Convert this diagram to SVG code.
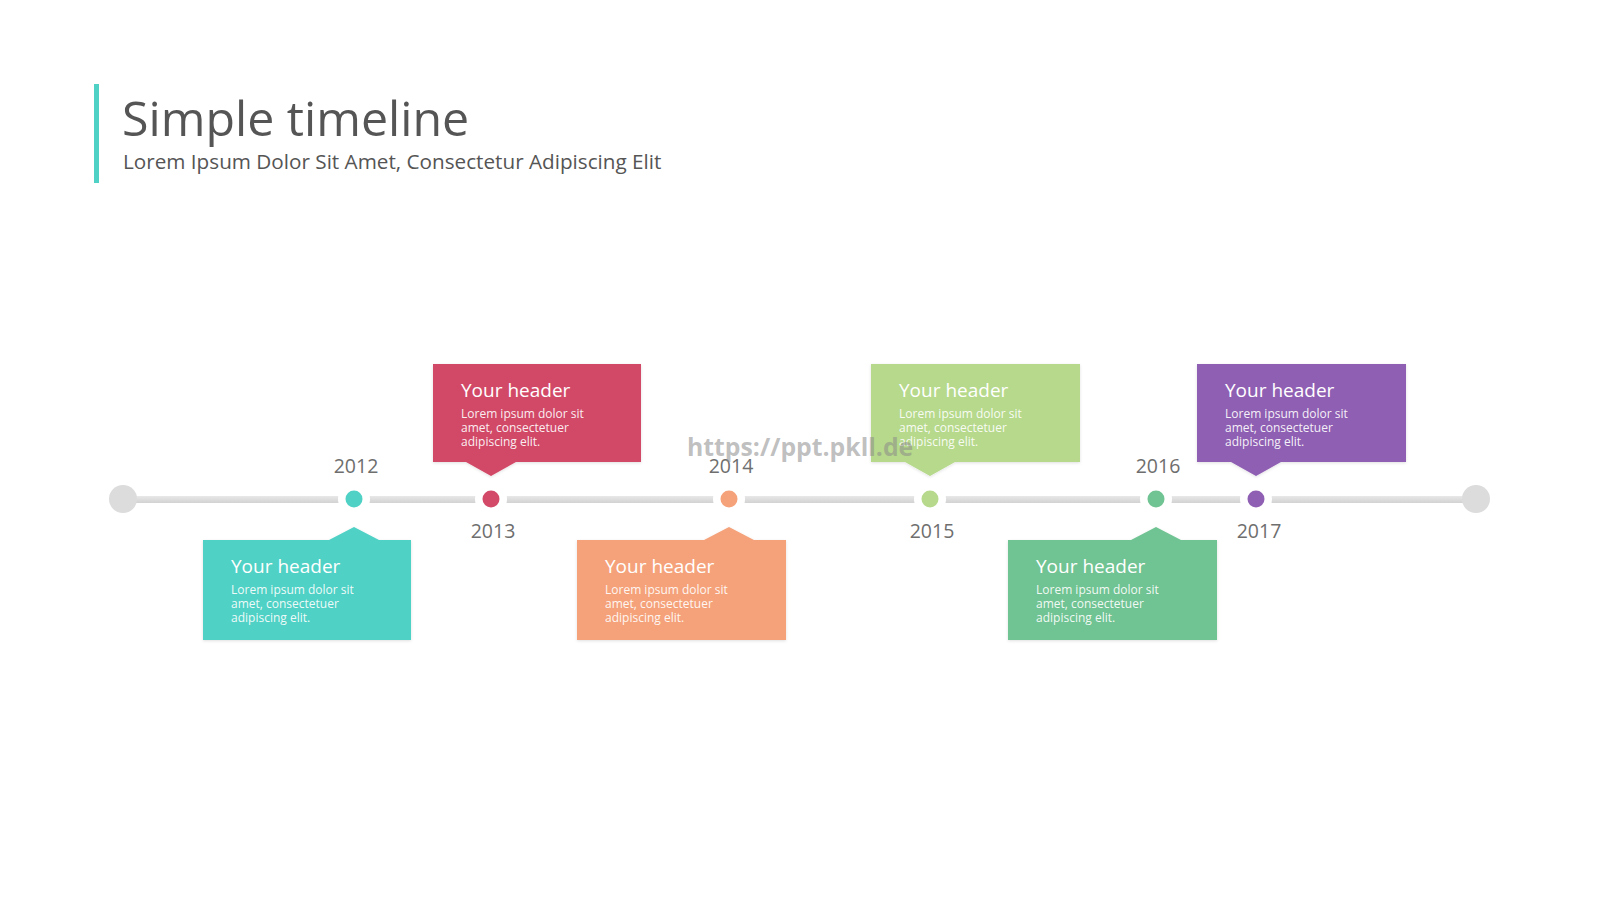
<svg xmlns="http://www.w3.org/2000/svg" width="1600" height="900" viewBox="0 0 1600 900">
<defs>
<style>
.t{font-family:"Open Sans","Noto Sans","Liberation Sans",sans-serif}
.yr{font-family:"Open Sans","Noto Sans","Liberation Sans",sans-serif;font-size:19.5px;fill:#6e6e6e;text-anchor:middle}
.hd{font-family:"Open Sans","Noto Sans","Liberation Sans",sans-serif;font-size:19px;fill:#ffffff}
.bd{font-family:"Open Sans","Noto Sans","Liberation Sans",sans-serif;font-size:12px;fill:#ffffff;fill-opacity:0.92}
</style>
<linearGradient id="lg" x1="0" y1="0" x2="0" y2="1">
<stop offset="0" stop-color="#e8e8e8"/>
<stop offset="1" stop-color="#d2d2d2"/>
</linearGradient>
<filter id="sh" x="-10%" y="-10%" width="120%" height="130%">
<feDropShadow dx="0" dy="1" stdDeviation="1.5" flood-color="#000" flood-opacity="0.12"/>
</filter>
</defs>
<rect width="1600" height="900" fill="#ffffff"/>
<g id="title">
<rect x="94" y="84" width="5" height="99" fill="#4fd1c5"/>
<text class="t" x="122" y="136" font-size="48.3" fill="#555555">Simple timeline</text>
<text class="t" x="123" y="169" font-size="20.7" fill="#555555">Lorem Ipsum Dolor Sit Amet, Consectetur Adipiscing Elit</text>
</g>
<g id="connectors">
<rect x="123" y="496" width="1353" height="7" fill="url(#lg)"/>
<circle cx="123" cy="499" r="14" fill="#dcdcdc"/>
<circle cx="1476" cy="499" r="14" fill="#dcdcdc"/>
<g fill="#ffffff">
<circle cx="354" cy="499" r="16"/>
<circle cx="491" cy="499" r="16"/>
<circle cx="729" cy="499" r="16"/>
<circle cx="930" cy="499" r="16"/>
<circle cx="1156" cy="499" r="16"/>
<circle cx="1256" cy="499" r="16"/>
</g>
</g>
<g id="node-2012">
<circle cx="354" cy="499" r="8.5" fill="#4fd1c5"/>
<text class="yr" x="356" y="473">2012</text>
<path d="M203 540 H329 L354 527 L379 540 H411 V640 H203 Z" fill="#4fd1c5" filter="url(#sh)"/>
<text class="hd" x="231" y="573">Your header</text>
<text class="bd" x="231" y="594">Lorem ipsum dolor sit</text>
<text class="bd" x="231" y="608">amet, consectetuer</text>
<text class="bd" x="231" y="622">adipiscing elit.</text>
</g>
<g id="node-2013">
<circle cx="491" cy="499" r="8.5" fill="#d24a68"/>
<text class="yr" x="493" y="538">2013</text>
<path d="M433 364 H641 V462 H516 L491 476 L466 462 H433 Z" fill="#d24a68" filter="url(#sh)"/>
<text class="hd" x="461" y="397">Your header</text>
<text class="bd" x="461" y="418">Lorem ipsum dolor sit</text>
<text class="bd" x="461" y="432">amet, consectetuer</text>
<text class="bd" x="461" y="446">adipiscing elit.</text>
</g>
<g id="node-2014">
<circle cx="729" cy="499" r="8.5" fill="#f5a27a"/>
<text class="yr" x="731" y="473">2014</text>
<path d="M577 540 H704 L729 527 L754 540 H786 V640 H577 Z" fill="#f5a27a" filter="url(#sh)"/>
<text class="hd" x="605" y="573">Your header</text>
<text class="bd" x="605" y="594">Lorem ipsum dolor sit</text>
<text class="bd" x="605" y="608">amet, consectetuer</text>
<text class="bd" x="605" y="622">adipiscing elit.</text>
</g>
<g id="node-2015">
<circle cx="930" cy="499" r="8.5" fill="#b6d98b"/>
<text class="yr" x="932" y="538">2015</text>
<path d="M871 364 H1080 V462 H955 L930 476 L905 462 H871 Z" fill="#b6d98b" filter="url(#sh)"/>
<text class="hd" x="899" y="397">Your header</text>
<text class="bd" x="899" y="418">Lorem ipsum dolor sit</text>
<text class="bd" x="899" y="432">amet, consectetuer</text>
<text class="bd" x="899" y="446">adipiscing elit.</text>
</g>
<g id="node-2016">
<circle cx="1156" cy="499" r="8.5" fill="#70c392"/>
<text class="yr" x="1158" y="473">2016</text>
<path d="M1008 540 H1131 L1156 527 L1181 540 H1217 V640 H1008 Z" fill="#70c392" filter="url(#sh)"/>
<text class="hd" x="1036" y="573">Your header</text>
<text class="bd" x="1036" y="594">Lorem ipsum dolor sit</text>
<text class="bd" x="1036" y="608">amet, consectetuer</text>
<text class="bd" x="1036" y="622">adipiscing elit.</text>
</g>
<g id="node-2017">
<circle cx="1256" cy="499" r="8.5" fill="#8f5fb3"/>
<text class="yr" x="1259" y="538">2017</text>
<path d="M1197 364 H1406 V462 H1281 L1256 476 L1231 462 H1197 Z" fill="#8f5fb3" filter="url(#sh)"/>
<text class="hd" x="1225" y="397">Your header</text>
<text class="bd" x="1225" y="418">Lorem ipsum dolor sit</text>
<text class="bd" x="1225" y="432">amet, consectetuer</text>
<text class="bd" x="1225" y="446">adipiscing elit.</text>
</g>
<text class="t" x="687" y="456" font-size="24.8" font-weight="bold" fill="#8a8a8a" fill-opacity="0.55">https://ppt.pkll.de</text>
</svg>
